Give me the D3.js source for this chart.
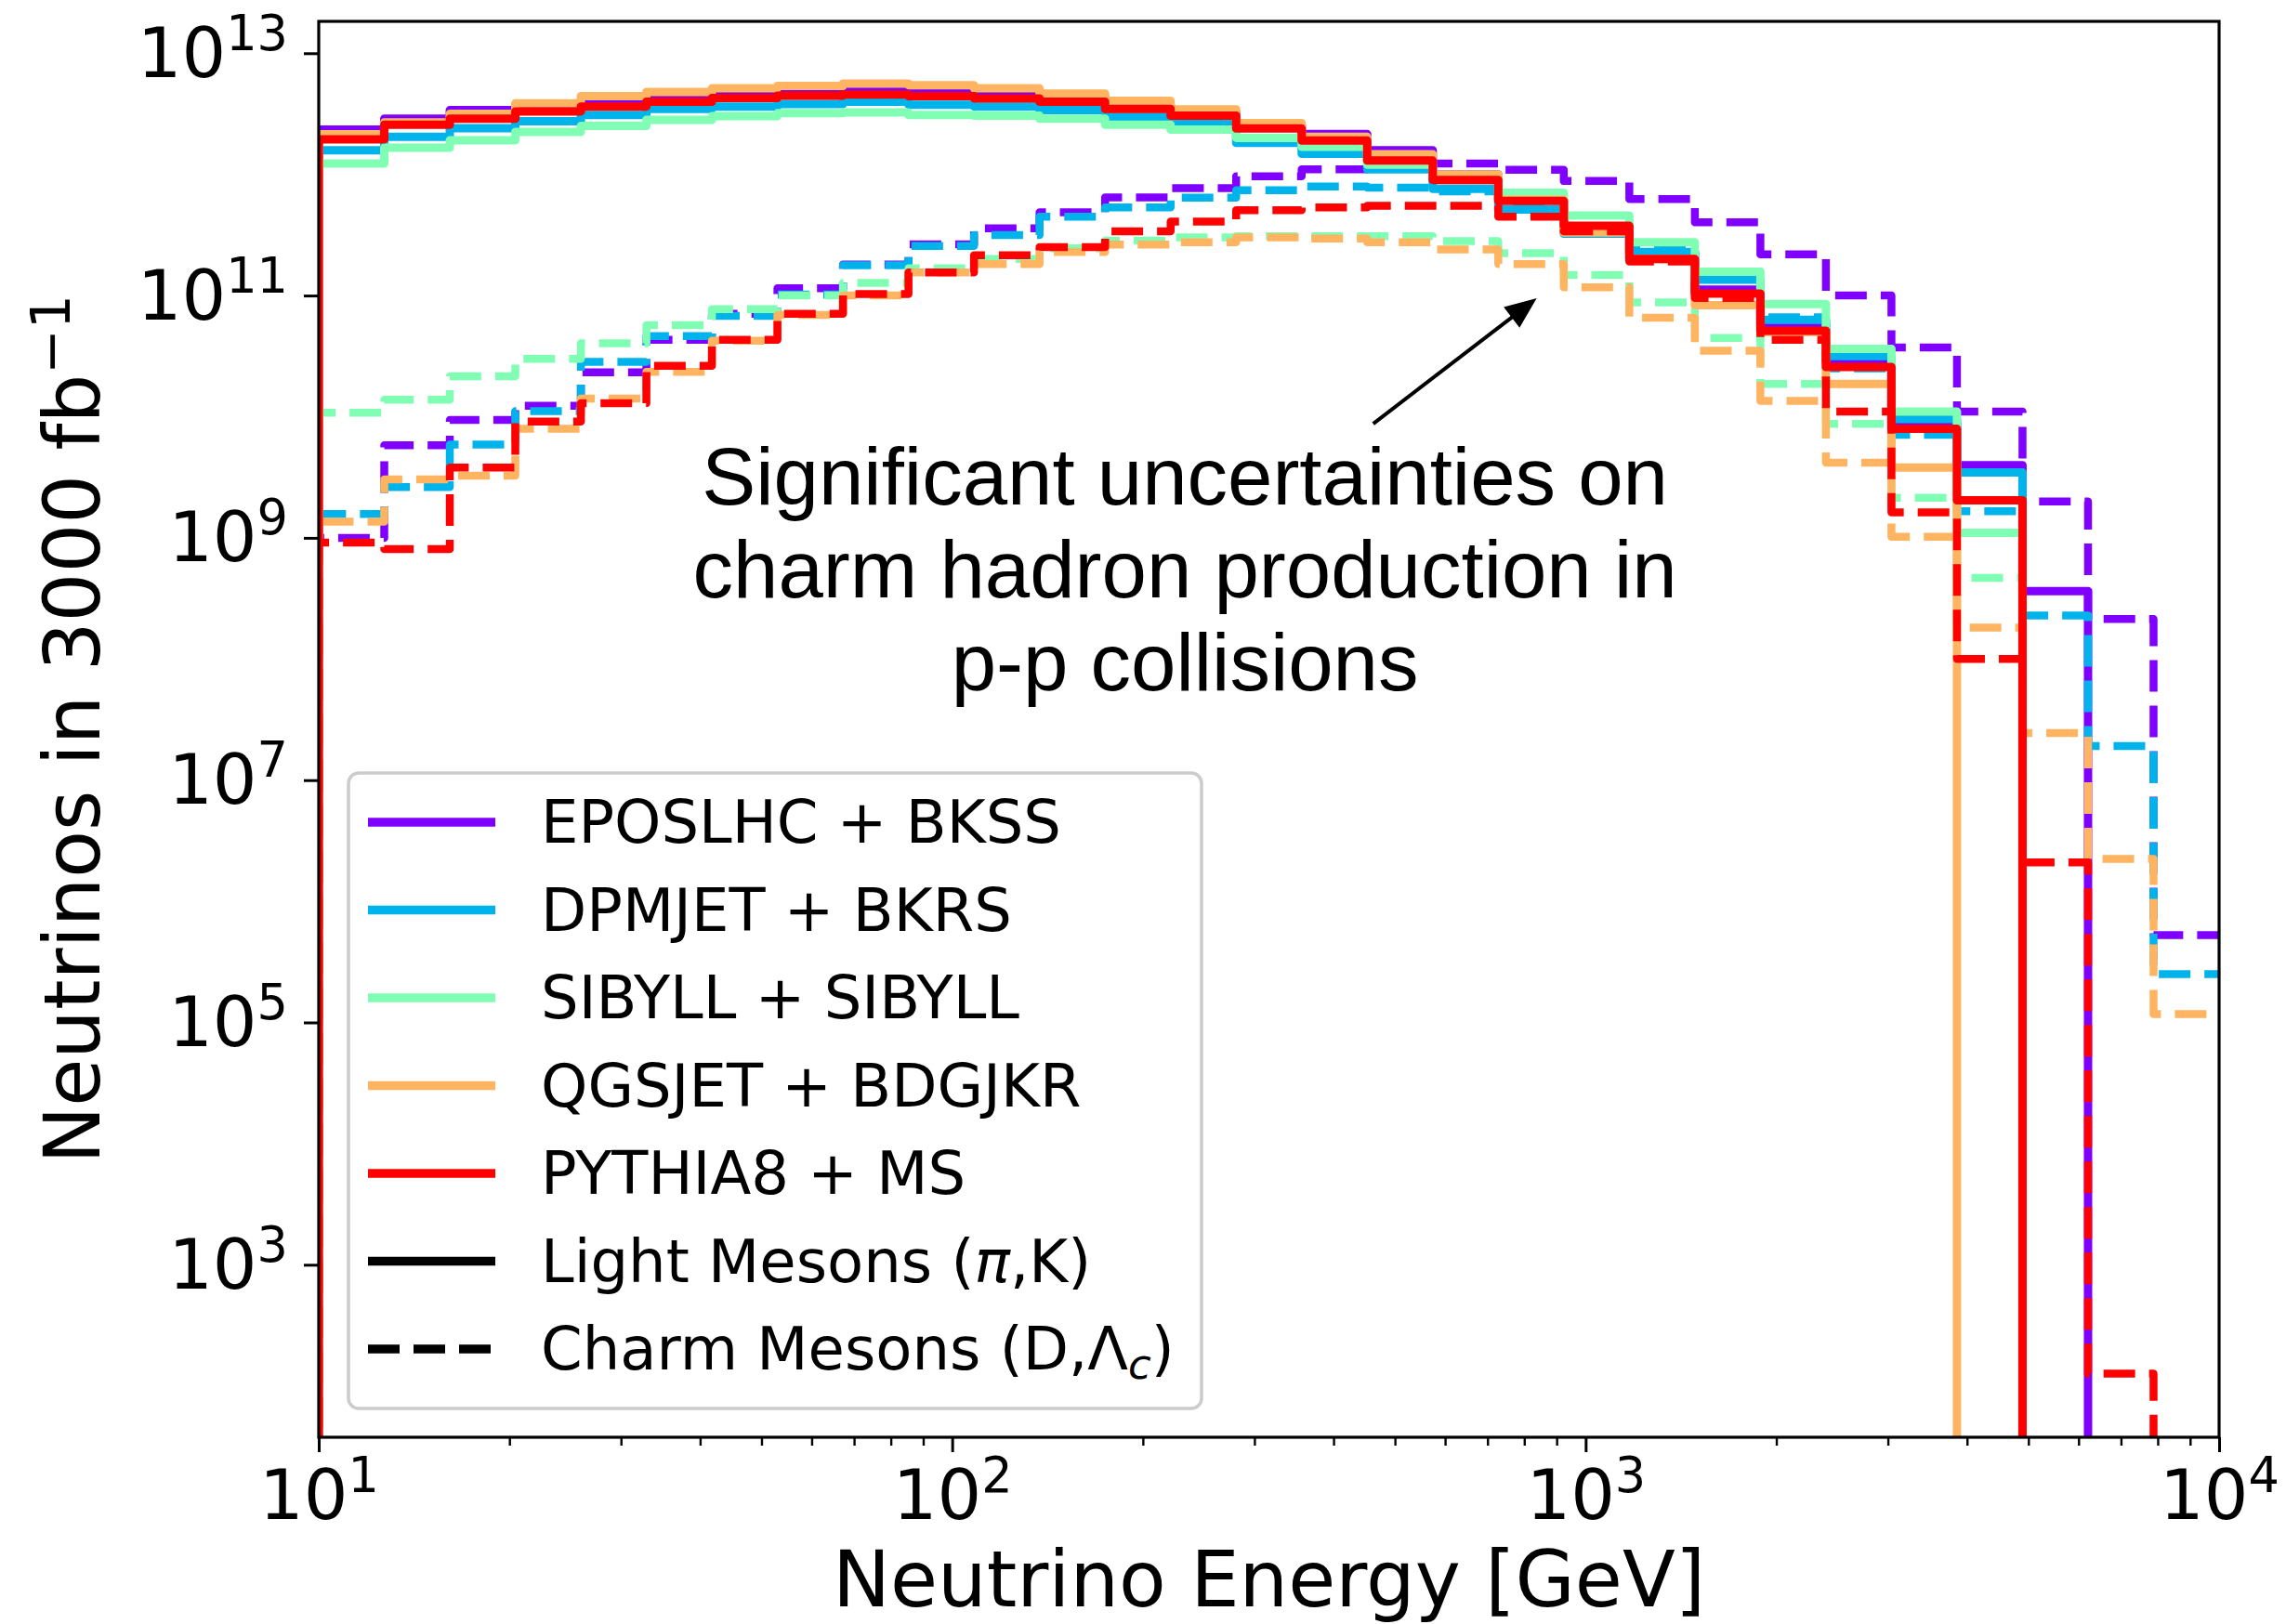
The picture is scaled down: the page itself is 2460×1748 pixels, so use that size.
<!DOCTYPE html>
<html>
<head>
<meta charset="utf-8">
<script src="https://cdn.jsdelivr.net/npm/d3@7"></script>
<style>
  body { margin: 0; background: #fff; }
  text { font-family: "DejaVu Sans", sans-serif; }
</style>
</head>
<body>
<svg></svg>
<script>
// bin edges of the histograms [GeV]
const binEdges = [10, 12.690, 16.103, 20.434, 25.930, 32.903, 41.753, 52.983, 67.234, 85.317,
    108.26, 137.38, 174.33, 221.22, 280.72, 356.22, 452.03, 573.61, 727.90, 923.67,
    1172.1, 1487.4, 1887.4, 2395.1, 3039.2, 3856.6, 4893.9, 6210.2, 7880.5, 10000];

const models = ["EPOSLHC + BKSS", "DPMJET + BKRS", "SIBYLL + SIBYLL", "QGSJET + BDGJKR", "PYTHIA8 + MS"];
const colors = ["#8000ff", "#00b4eb", "#80ffb4", "#ffb462", "#ff0000"];

// light mesons (pi, K)
const lightEPOS = [2.34e12, 2.88e12, 3.39e12, 3.76e12, 3.98e12, 4.42e12, 4.68e12, 4.79e12, 5.01e12, 4.90e12,
    4.65e12, 4.33e12, 3.77e12, 3.27e12, 2.57e12, 2.15e12, 1.58e12, 1.0e12, 6.17e11, 3.72e11,
    2.26e11, 1.12e11, 5.75e10, 2.82e10, 8.9e9, 3.98e9, 3.63e8, 0, 0];
const lightDPMJET = [1.58e12, 2.04e12, 2.40e12, 2.75e12, 3.09e12, 3.47e12, 3.63e12, 3.80e12, 3.98e12, 3.76e12,
    3.63e12, 3.39e12, 2.99e12, 2.63e12, 1.82e12, 1.48e12, 1.10e12, 7.59e11, 5.13e11, 3.24e11,
    2.29e11, 1.35e11, 6.31e10, 3.16e10, 9.55e9, 3.47e9, 0, 0, 0];
const lightSIBYLL = [1.23e12, 1.66e12, 1.91e12, 2.24e12, 2.51e12, 2.82e12, 3.02e12, 3.20e12, 3.24e12, 3.09e12,
    3.05e12, 2.88e12, 2.57e12, 2.34e12, 2.0e12, 1.69e12, 1.20e12, 9.77e11, 7.05e11, 4.57e11,
    2.75e11, 1.57e11, 8.51e10, 3.63e10, 1.10e10, 1.10e9, 0, 0, 0];
const lightQGSJET = [2.14e12, 2.69e12, 3.16e12, 3.85e12, 4.42e12, 4.79e12, 5.13e12, 5.37e12, 5.62e12, 5.45e12,
    5.13e12, 4.65e12, 4.04e12, 3.44e12, 2.65e12, 2.04e12, 1.47e12, 1.0e12, 6.17e11, 3.31e11,
    2.0e11, 8.32e10, 5.01e10, 1.86e10, 3.80e9, 0, 0, 0, 0];
const lightPYTHIA = [1.95e12, 2.57e12, 2.88e12, 3.31e12, 3.63e12, 3.98e12, 4.27e12, 4.47e12, 4.57e12, 4.42e12,
    4.24e12, 3.98e12, 3.47e12, 3.05e12, 2.39e12, 1.90e12, 1.30e12, 9.0e11, 6.03e11, 3.76e11,
    2.0e11, 1.04e11, 5.13e10, 2.57e10, 7.94e9, 2.04e9, 0, 0, 0];

// charm mesons (D, Lambda_c)
const charmEPOS = [1.0e9, 5.82e9, 9.42e9, 1.23e10, 2.32e10, 4.32e10, 7.08e10, 1.15e11, 1.80e11, 2.65e11,
    3.58e11, 4.86e11, 6.46e11, 7.71e11, 9.64e11, 1.10e12, 1.15e12, 1.23e12, 1.09e12, 8.81e11,
    6.25e11, 4.03e11, 2.19e11, 1.0e11, 3.72e10, 1.10e10, 2.0e9, 2.14e8, 5.25e5];
const charmDPMJET = [1.57e9, 2.63e9, 5.89e9, 1.11e10, 2.84e10, 4.62e10, 6.79e10, 1.02e11, 1.78e11, 2.56e11,
    3.16e11, 4.47e11, 5.33e11, 6.43e11, 7.41e11, 7.94e11, 7.76e11, 7.24e11, 5.25e11, 3.55e11,
    2.40e11, 1.38e11, 6.61e10, 2.51e10, 7.08e9, 1.66e9, 2.29e8, 1.91e7, 2.51e5];
const charmSIBYLL = [1.08e10, 1.38e10, 2.16e10, 3.0e10, 4.03e10, 5.70e10, 7.71e10, 1.0e11, 1.27e11, 1.68e11,
    2.0e11, 2.45e11, 2.84e11, 3.02e11, 3.09e11, 3.09e11, 3.09e11, 2.82e11, 2.24e11, 1.48e11,
    8.79e10, 4.47e10, 1.86e10, 8.71e9, 2.14e9, 4.68e8, 0, 0, 0];
const charmQGSJET = [1.36e9, 3.04e9, 3.26e9, 7.94e9, 1.41e10, 2.34e10, 4.23e10, 6.92e10, 1.0e11, 1.55e11,
    1.82e11, 2.29e11, 2.63e11, 2.75e11, 3.02e11, 2.95e11, 2.75e11, 2.40e11, 1.82e11, 1.17e11,
    6.56e10, 3.50e10, 1.35e10, 4.17e9, 1.02e9, 1.82e8, 2.45e7, 2.24e6, 1.17e5];
const charmPYTHIA = [9.12e8, 8.07e8, 3.80e9, 9.12e9, 1.29e10, 2.63e10, 4.32e10, 7.08e10, 1.03e11, 1.55e11,
    2.15e11, 2.51e11, 3.39e11, 4.07e11, 5.07e11, 5.33e11, 5.50e11, 5.50e11, 4.47e11, 3.39e11,
    1.91e11, 9.55e10, 4.32e10, 1.10e10, 1.62e9, 1.0e8, 2.09e6, 1.26e2, 0];

const lightSets = [lightEPOS, lightDPMJET, lightSIBYLL, lightQGSJET, lightPYTHIA];
const charmSets = [charmEPOS, charmDPMJET, charmSIBYLL, charmQGSJET, charmPYTHIA];

const xMajorTicks = [10, 100, 1000, 10000];
const xMinorTicks = [20, 30, 40, 50, 60, 70, 80, 90, 200, 300, 400, 500, 600, 700, 800, 900,
    2000, 3000, 4000, 5000, 6000, 7000, 8000, 9000];
const yMajorTicks = [1e3, 1e5, 1e7, 1e9, 1e11, 1e13];

const noteLines = ["Significant uncertainties on", "charm hadron production in", "p-p collisions"];
const noteAt = [233, 1.9e9];        // text anchor (GeV, count)
const arrowFrom = [462, 8.75e9];
const arrowTo = [837, 9.5e10];

let svg = d3.select("svg").attr("width", 2460).attr("height", 1748),
    margin = {top: 23, left: 343},
    width = 2045,
    height = 1524,
    g = svg.append("g").attr("transform", "translate(" + margin.left + "," + margin.top + ")");

let x = d3.scaleLog().domain([10, 1e4]).range([0, width]),
    y = d3.scaleLog().domain([Math.pow(10, 1.576), Math.pow(10, 13.263)]).range([height, 0]);

function yv(v) { return v > 0 ? y(v) : height + 40; }

// histogram outline as in histtype='step' (rises from the floor at the first edge)
function stepPoints(vals) {
    let pts = [[x(binEdges[0]), yv(0)]];
    vals.forEach(function(v, i) {
        pts.push([x(binEdges[i]), yv(v)]);
        pts.push([x(binEdges[i + 1]), yv(v)]);
    });
    return pts;
}

let line = d3.line();

g.append("clipPath").attr("id", "clip")
    .append("rect").attr("width", width).attr("height", height);

let lines = g.append("g").attr("clip-path", "url(#clip)");

models.forEach(function(m, i) {
    lines.append("path")
        .attr("d", line(stepPoints(lightSets[i])))
        .attr("fill", "none")
        .attr("stroke", colors[i])
        .attr("stroke-width", 9)
        .attr("stroke-linejoin", "round");
    lines.append("path")
        .attr("d", line(stepPoints(charmSets[i])))
        .attr("fill", "none")
        .attr("stroke", colors[i])
        .attr("stroke-width", 8.5)
        .attr("stroke-linejoin", "round")
        .attr("stroke-dasharray", "34,15");
});

// axes
function supLabel(sel, d) {
    sel.text(null);
    sel.append("tspan").text("10");
    sel.append("tspan").attr("font-size", 52.5).attr("dy", -29).text(Math.round(Math.log10(d)));
}

let xAxis = g.append("g")
    .attr("transform", "translate(0," + height + ")")
    .call(d3.axisBottom(x).tickValues(xMajorTicks).tickSize(16));
xAxis.select(".domain").remove();
xAxis.selectAll(".tick line").attr("stroke-width", 3);
xAxis.selectAll(".tick text")
    .attr("y", 88).attr("dy", 0)
    .style("font-size", "75px").attr("fill", "#000")
    .each(function(d) { supLabel(d3.select(this), d); });

let xMinor = g.append("g")
    .attr("transform", "translate(0," + height + ")")
    .call(d3.axisBottom(x).tickValues(xMinorTicks).tickSize(9).tickFormat(""));
xMinor.select(".domain").remove();
xMinor.selectAll(".tick line").attr("stroke-width", 2.4);

let yAxis = g.append("g")
    .call(d3.axisLeft(y).tickValues(yMajorTicks).tickSize(16));
yAxis.select(".domain").remove();
yAxis.selectAll(".tick line").attr("stroke-width", 3);
yAxis.selectAll(".tick text")
    .attr("x", -33).attr("y", 25).attr("dy", 0)
    .style("font-size", "75px").attr("fill", "#000")
    .attr("text-anchor", "end")
    .each(function(d) { supLabel(d3.select(this), d); });

g.append("rect")
    .attr("width", width).attr("height", height)
    .attr("fill", "none").attr("stroke", "#000").attr("stroke-width", 3.2);

// axis labels
svg.append("text")
    .attr("x", margin.left + width / 2).attr("y", 1729)
    .attr("text-anchor", "middle")
    .style("font-size", "83px")
    .text("Neutrino Energy [GeV]");

let yl = svg.append("text")
    .attr("transform", "translate(107," + (margin.top + height / 2) + ") rotate(-90)")
    .attr("text-anchor", "middle")
    .style("font-size", "83px");
yl.append("tspan").text("Neutrinos in 3000 fb");
yl.append("tspan").attr("font-size", 58).attr("dy", -32).text("\u22121");

// annotation
let note = g.append("text")
    .attr("text-anchor", "middle")
    .style("font-family", "'Liberation Sans', Arial, sans-serif")
    .style("font-size", "87px");
noteLines.forEach(function(t, i) {
    note.append("tspan")
        .attr("x", x(noteAt[0]))
        .attr("y", y(noteAt[1]) + i * 100)
        .text(t);
});

let ax0 = x(arrowFrom[0]), ay0 = y(arrowFrom[1]),
    ax1 = x(arrowTo[0]), ay1 = y(arrowTo[1]),
    len = Math.hypot(ax1 - ax0, ay1 - ay0),
    ux = (ax1 - ax0) / len, uy = (ay1 - ay0) / len,
    headL = 34, headW = 14;
g.append("line")
    .attr("x1", ax0).attr("y1", ay0)
    .attr("x2", ax1 - ux * headL * 0.8).attr("y2", ay1 - uy * headL * 0.8)
    .attr("stroke", "#000").attr("stroke-width", 4);
g.append("path")
    .attr("d", "M" + ax1 + "," + ay1 +
        "L" + (ax1 - ux * headL - uy * headW) + "," + (ay1 - uy * headL + ux * headW) +
        "L" + (ax1 - ux * headL + uy * headW) + "," + (ay1 - uy * headL - ux * headW) + "Z")
    .attr("fill", "#000");

// legend
let legend = svg.append("g").attr("transform", "translate(375,832)");
legend.append("rect")
    .attr("width", 918).attr("height", 684).attr("rx", 11)
    .attr("fill", "#fff").attr("fill-opacity", 0.8)
    .attr("stroke", "#cccccc").attr("stroke-width", 3.5);

let rowH = 94.5, row0 = 53;
models.forEach(function(m, i) {
    let ry = row0 + i * rowH;
    legend.append("line")
        .attr("x1", 21).attr("x2", 158).attr("y1", ry).attr("y2", ry)
        .attr("stroke", colors[i]).attr("stroke-width", 9.5);
    legend.append("text")
        .attr("x", 207).attr("y", ry + 22)
        .style("font-size", "64px")
        .text(m);
});

let ry5 = row0 + 5 * rowH, ry6 = row0 + 6 * rowH;
legend.append("line")
    .attr("x1", 21).attr("x2", 158).attr("y1", ry5).attr("y2", ry5)
    .attr("stroke", "#000").attr("stroke-width", 9.5);
legend.append("line")
    .attr("x1", 21).attr("x2", 158).attr("y1", ry6).attr("y2", ry6)
    .attr("stroke", "#000").attr("stroke-width", 9.5)
    .attr("stroke-dasharray", "34,15");

let t5 = legend.append("text").attr("x", 207).attr("y", ry5 + 22).style("font-size", "64px");
t5.append("tspan").text("Light Mesons (");
t5.append("tspan").style("font-style", "italic").text("\u03c0");
t5.append("tspan").text(",K)");

let t6 = legend.append("text").attr("x", 207).attr("y", ry6 + 22).style("font-size", "64px");
t6.append("tspan").text("Charm Mesons (D,\u039b");
t6.append("tspan").style("font-style", "italic").attr("font-size", 45).attr("dy", 10).text("c");
t6.append("tspan").attr("dy", -10).text(")");
</script>
</body>
</html>
